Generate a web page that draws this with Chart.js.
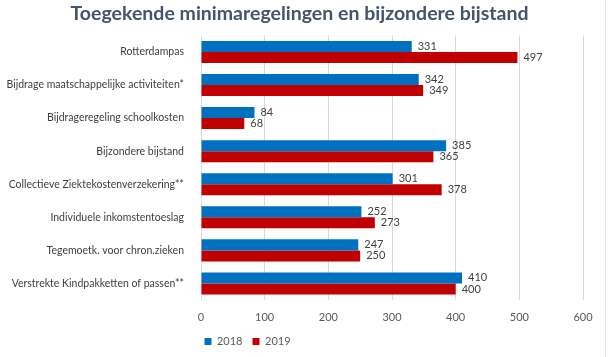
<!DOCTYPE html>
<html><head><meta charset="utf-8">
<script src="https://cdn.jsdelivr.net/npm/chart.js@4"></script>
<style>
html,body{margin:0;padding:0;background:#fff;}
#wrap{position:relative;width:609px;height:357px;}
#edge{position:absolute;left:605px;top:0;width:1px;height:357px;background:#e4e4e4;}
</style></head>
<body><div id="wrap"><canvas id="c" width="609" height="357"></canvas><div id="edge"></div></div>
<script>
const categories = [
  "Rotterdampas",
  "Bijdrage maatschappelijke activiteiten*",
  "Bijdrageregeling schoolkosten",
  "Bijzondere bijstand",
  "Collectieve Ziektekostenverzekering**",
  "Individuele inkomstentoeslag",
  "Tegemoetk. voor chron.zieken",
  "Verstrekte Kindpakketten of passen**"
];
const values2018 = [331, 342, 84, 385, 301, 252, 247, 410];
const values2019 = [497, 349, 68, 365, 378, 273, 250, 400];
const xTicks = [0, 100, 200, 300, 400, 500, 600];
const FONT = "Lato, 'Liberation Sans', sans-serif";

const valueLabels = {
  id: 'valueLabels',
  afterDatasetsDraw(chart) {
    const ctx = chart.ctx;
    ctx.save();
    ctx.font = "11px " + FONT;
    ctx.fillStyle = '#404040';
    ctx.textBaseline = 'middle';
    ctx.textAlign = 'left';
    chart.data.datasets.forEach((ds, i) => {
      chart.getDatasetMeta(i).data.forEach((bar, j) => {
        ctx.fillText(String(ds.data[j]), bar.x + 6, bar.y);
      });
    });
    ctx.restore();
  }
};
const shiftBoxes = {
  id: 'shiftBoxes',
  afterLayout(chart) {
    const lg = chart.legend;
    if (lg) { lg.left -= 44; lg.right -= 44; }
    const t = chart.titleBlock;
    if (t) { t.left += 8; t.right += 8; }
  }
};

new Chart(document.getElementById('c'), {
  type: 'bar',
  data: {
    labels: categories,
    datasets: [
      { label: '2018', data: values2018, backgroundColor: '#0070c0', barPercentage: 1, categoryPercentage: 0.667 },
      { label: '2019', data: values2019, backgroundColor: '#c00000', barPercentage: 1, categoryPercentage: 0.667 }
    ]
  },
  options: {
    indexAxis: 'y',
    responsive: false,
    animation: false,
    layout: { padding: { left: 0, right: 26, top: 0, bottom: 0 } },
    scales: {
      x: {
        min: 0, max: 600,
        afterBuildTicks(axis) { axis.ticks = xTicks.map(v => ({ value: v })); },
        grid: { color: '#d9d9d9', drawTicks: false },
        border: { display: false },
        ticks: { color: '#595959', font: { family: FONT, size: 11 }, padding: 11 },
        afterFit(axis) { axis.height = 26; }
      },
      y: {
        grid: { display: false },
        border: { display: false },
        ticks: { color: '#404040', font: { family: FONT, size: 10.5 }, padding: 9 },
        afterFit(axis) { axis.width = 201; }
      }
    },
    plugins: {
      title: {
        display: true,
        text: 'Toegekende minimaregelingen en bijzondere bijstand',
        color: '#44546a',
        font: { family: FONT, size: 19.5, weight: 'bold' },
        padding: { top: 2, bottom: 10 }
      },
      legend: {
        position: 'bottom',
        labels: { boxWidth: 7, boxHeight: 7, padding: 10, color: '#595959', font: { family: FONT, size: 11 } }
      },
      tooltip: { enabled: false }
    }
  },
  plugins: [valueLabels, shiftBoxes]
});
</script></body></html>
